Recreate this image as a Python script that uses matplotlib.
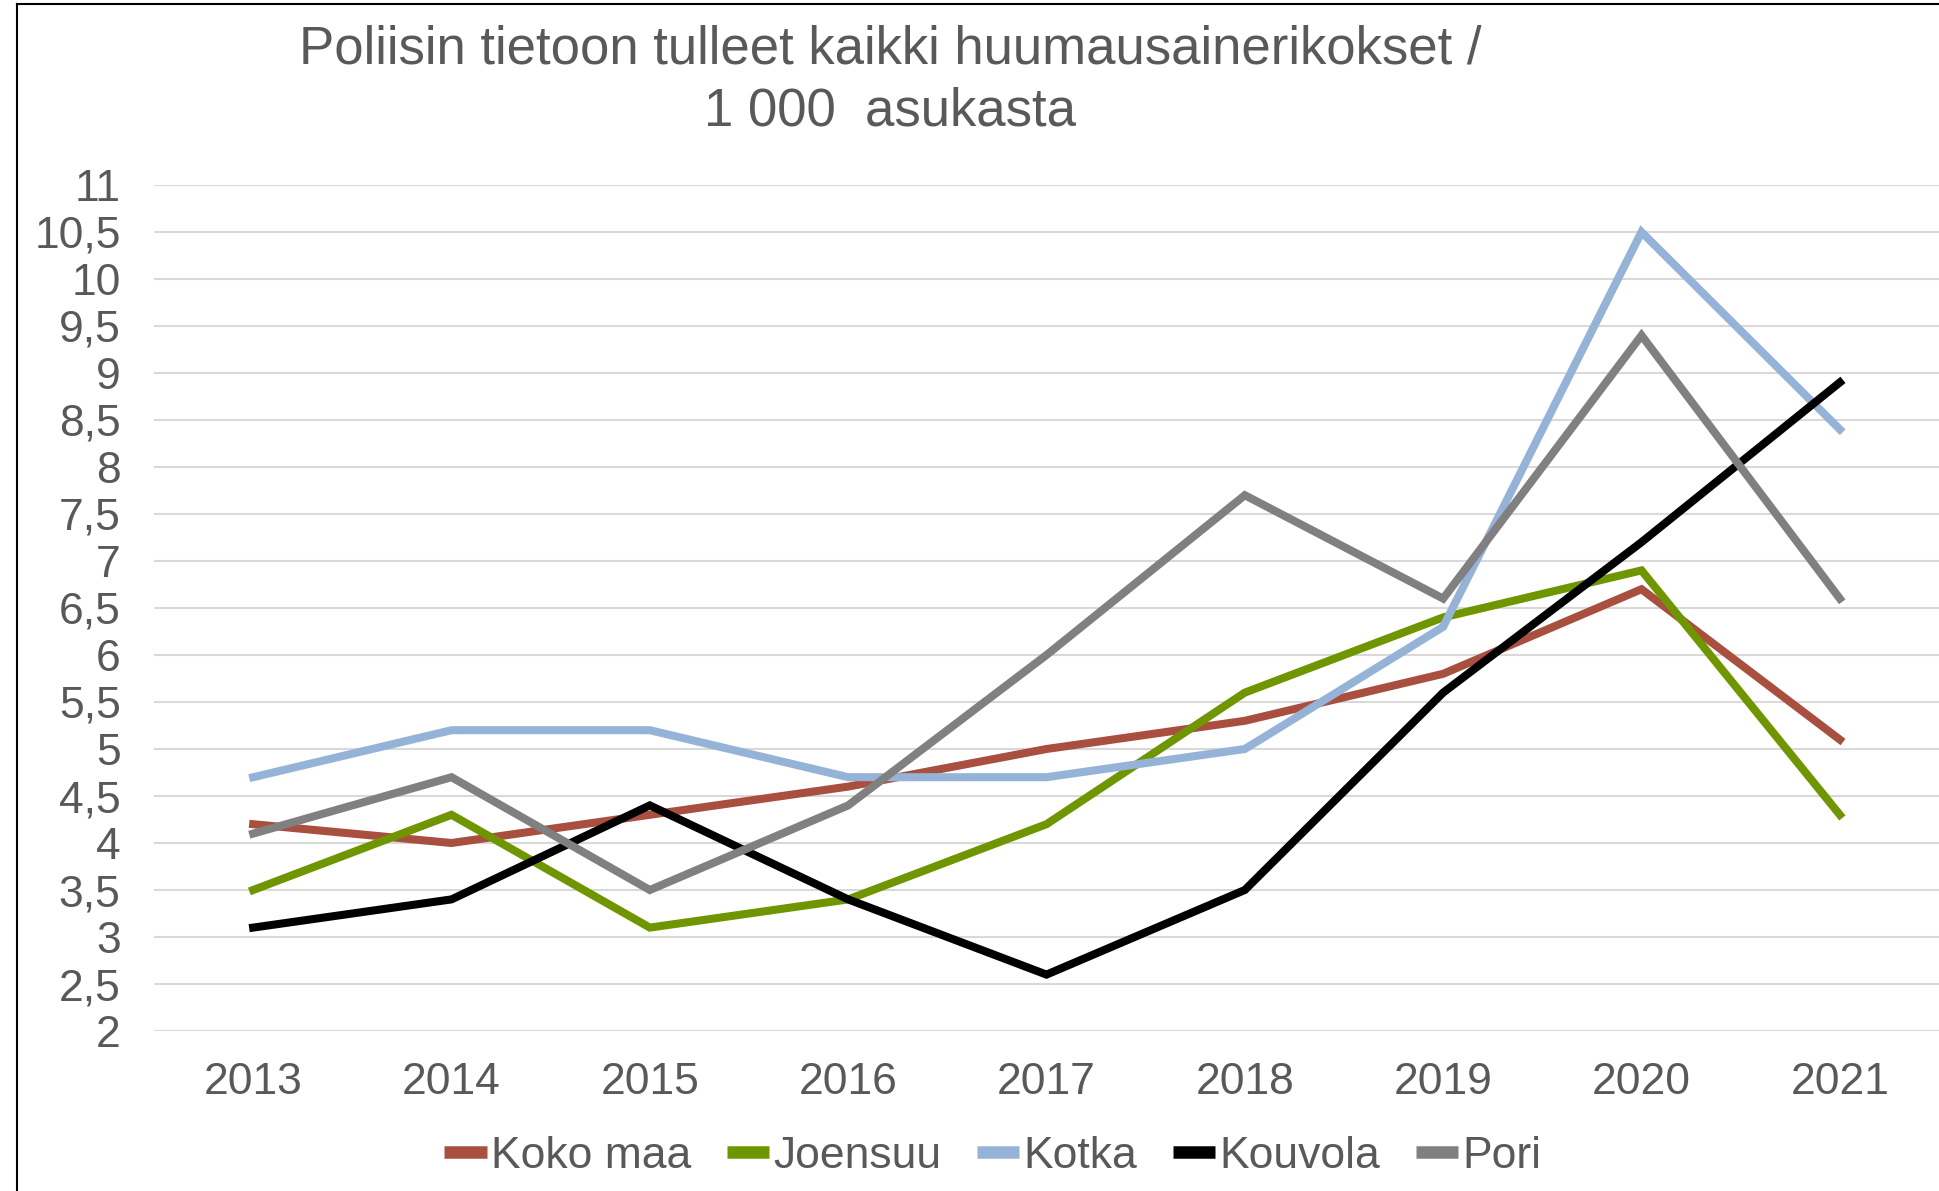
import matplotlib.pyplot as plt
from matplotlib.ticker import MultipleLocator, FuncFormatter

plt.rcParams['font.family'] = ['Liberation Sans', 'DejaVu Sans']

years = ['2013', '2014', '2015', '2016', '2017', '2018', '2019', '2020', '2021']
koko_maa = [4.2, 4.0, 4.3, 4.6, 5.0, 5.3, 5.8, 6.7, 5.1]
joensuu = [3.5, 4.3, 3.1, 3.4, 4.2, 5.6, 6.4, 6.9, 4.3]
kotka = [4.7, 5.2, 5.2, 4.7, 4.7, 5.0, 6.3, 10.5, 8.4]
kouvola = [3.1, 3.4, 4.4, 3.4, 2.6, 3.5, 5.6, 7.2, 8.9]
pori = [4.1, 4.7, 3.5, 4.4, 6.0, 7.7, 6.6, 9.4, 6.6]

series = [
    ('Koko maa', koko_maa, '#A84F40'),
    ('Joensuu', joensuu, '#6F9600'),
    ('Kotka', kotka, '#95B3D7'),
    ('Kouvola', kouvola, '#000000'),
    ('Pori', pori, '#808080'),
]

text_col = '#595959'

fig = plt.figure(figsize=(19.39, 11.91), dpi=100)
ax = fig.add_axes([154 / 1939, 1 - 1031 / 1191, 1 - 154 / 1939, (1031 - 185) / 1191])

x = range(len(years))
for name, vals, col in series:
    ax.plot(x, vals, color=col, lw=5.8, label=name, solid_joinstyle='miter')

ax.set_xlim(-0.5, len(years) - 0.5)
ax.set_ylim(2, 11)
ax.yaxis.set_major_locator(MultipleLocator(0.5))
ax.yaxis.set_major_formatter(FuncFormatter(lambda v, p: ('%g' % v).replace('.', ',')))
ax.set_xticks(list(x))
ax.set_xticklabels(years)
ax.grid(axis='y', color='#D9D9D9', lw=1.5)
ax.set_axisbelow(True)
for s in ax.spines.values():
    s.set_visible(False)
ax.tick_params(axis='both', length=0, labelsize=32, colors=text_col)
ax.tick_params(axis='y', pad=24)
ax.tick_params(axis='x', pad=22)

fig.text(890 / 1939, 1 - 50 / 1191, 'Poliisin tietoon tulleet kaikki huumausainerikokset /',
         ha='center', va='center', fontsize=38, color=text_col)
fig.text(890 / 1939, 1 - 111 / 1191, '1 000  asukasta',
         ha='center', va='center', fontsize=38, color=text_col)

leg = fig.legend(loc='center', bbox_to_anchor=(993 / 1939, 1 - 1156 / 1191), ncol=5,
                 frameon=False, fontsize=32, handlelength=0.95, handletextpad=0.1,
                 columnspacing=0.8, labelcolor=text_col)
for h in leg.get_lines():
    h.set_linewidth(9)
    h.set_solid_capstyle('butt')

# outer chart border (left and top)
fig.add_artist(plt.Line2D([17 / 1939, 17 / 1939], [0, 1 - 4 / 1191], color='black', lw=1.5))
fig.add_artist(plt.Line2D([17 / 1939, 1], [1 - 4 / 1191, 1 - 4 / 1191], color='black', lw=1.5))

fig.savefig('out.png', dpi=100)
